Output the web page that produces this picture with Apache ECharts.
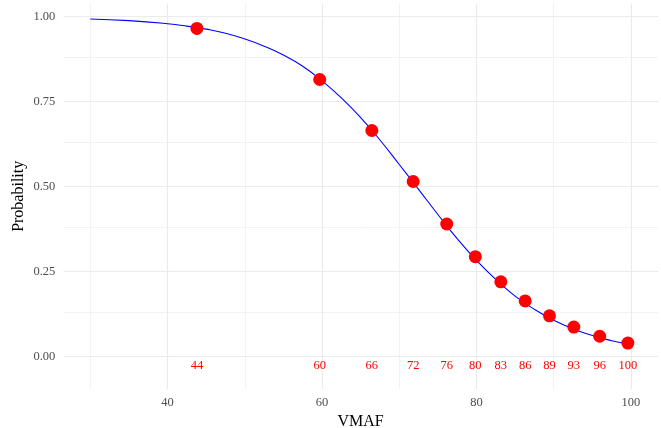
<!DOCTYPE html>
<html>
<head>
<meta charset="utf-8">
<script src="https://cdn.jsdelivr.net/npm/echarts@6/dist/echarts.min.js"></script>
<style>
  html, body { margin: 0; padding: 0; background: #ffffff; }
  #chart { width: 661px; height: 428px; }
</style>
</head>
<body>
<div id="chart"></div>
<script>
// Axis tick positions
const vmafTicks = [40, 60, 80, 100];
const vmafMinor = [30, 50, 70, 90];
const probTicks = [0, 0.25, 0.5, 0.75, 1];
const probMinor = [0.125, 0.375, 0.625, 0.875];

// Observed points (VMAF score, probability)
const pointVmaf = [43.8, 59.7, 66.45, 71.8, 76.15, 79.85, 83.15, 86.3, 89.45, 92.6, 95.95, 99.6];
const pointProb = [0.965, 0.815, 0.665, 0.515, 0.390, 0.294, 0.220, 0.164, 0.120, 0.087, 0.060, 0.040];

// Fitted curve, sampled along VMAF
const curveVmaf = [30, 35, 40, 42.5, 45, 47.5, 50, 52.5, 55, 57.5, 60, 62.5, 65, 67.5, 70,
                   72.5, 75, 77.5, 80, 82.5, 85, 87.5, 90, 92.5, 95, 97.5, 100];
const curveProb = [0.993, 0.988, 0.979, 0.972, 0.963, 0.951, 0.934, 0.913, 0.887, 0.854, 0.811, 0.761, 0.703, 0.637, 0.565,
                   0.492, 0.418, 0.347, 0.283, 0.227, 0.178, 0.139, 0.107, 0.082, 0.062, 0.047, 0.036];

const serif = 'Liberation Serif, Times New Roman, serif';
const majorGrid = { color: '#EBEBEB', width: 1.1, type: 'solid' };
const minorGrid = { color: '#F1F1F1', width: 0.9, type: 'solid' };

const gridLines = [].concat(
  vmafMinor.map(v => ({ xAxis: v, lineStyle: minorGrid })),
  probMinor.map(v => ({ yAxis: v, lineStyle: minorGrid })),
  vmafTicks.map(v => ({ xAxis: v, lineStyle: majorGrid })),
  probTicks.map(v => ({ yAxis: v, lineStyle: majorGrid }))
);

const chart = echarts.init(document.getElementById('chart'), null, { renderer: 'canvas' });

chart.setOption({
  animation: false,
  backgroundColor: '#ffffff',
  grid: {
    left: 63.3, right: 3, top: 3.3, bottom: 38.7,
    containLabel: false,
    outerBoundsMode: 'none'
  },
  xAxis: {
    type: 'value',
    min: 26.5,
    max: 103.5,
    name: 'VMAF',
    nameLocation: 'middle',
    nameGap: 20,
    nameTextStyle: { fontFamily: serif, fontSize: 16, color: '#000000' },
    axisLine: { show: false },
    axisTick: { show: false },
    splitLine: { show: false },
    axisLabel: {
      customValues: vmafTicks,
      margin: 7,
      fontFamily: serif,
      fontSize: 12.5,
      color: '#4D4D4D',
      formatter: v => String(v)
    }
  },
  yAxis: {
    type: 'value',
    min: -0.096,
    max: 1.039,
    name: 'Probability',
    nameLocation: 'middle',
    nameRotate: 90,
    nameGap: 37,
    nameMoveOverlap: false,
    nameTextStyle: { fontFamily: serif, fontSize: 16, color: '#000000' },
    axisLine: { show: false },
    axisTick: { show: false },
    splitLine: { show: false },
    axisLabel: {
      customValues: probTicks,
      margin: 8,
      fontFamily: serif,
      fontSize: 12.5,
      color: '#4D4D4D',
      formatter: v => v.toFixed(2)
    }
  },
  series: [
    {
      // panel grid lines, kept beneath everything else
      type: 'line',
      data: [],
      silent: true,
      z: 0,
      markLine: {
        z: 0,
        silent: true,
        symbol: ['none', 'none'],
        label: { show: false },
        animation: false,
        data: gridLines
      }
    },
    {
      type: 'line',
      z: 2,
      data: curveVmaf.map((x, i) => [x, curveProb[i]]),
      smooth: 0.5,
      showSymbol: false,
      lineStyle: { color: '#0000FF', width: 1.1, opacity: 1 },
      silent: true
    },
    {
      type: 'scatter',
      z: 3,
      data: pointVmaf.map((x, i) => [x, pointProb[i]]),
      symbolSize: 13,
      itemStyle: { color: '#FF0000', opacity: 1 },
      silent: true
    },
    {
      // VMAF value labels along the bottom
      type: 'scatter',
      z: 3,
      data: pointVmaf.map(x => [x, -0.028]),
      symbolSize: 0,
      itemStyle: { opacity: 1 },
      silent: true,
      label: {
        show: true,
        position: 'inside',
        fontFamily: serif,
        fontSize: 12.5,
        color: '#FF0000',
        opacity: 1,
        formatter: p => String(Math.round(p.value[0]))
      }
    }
  ]
});
</script>
</body>
</html>
